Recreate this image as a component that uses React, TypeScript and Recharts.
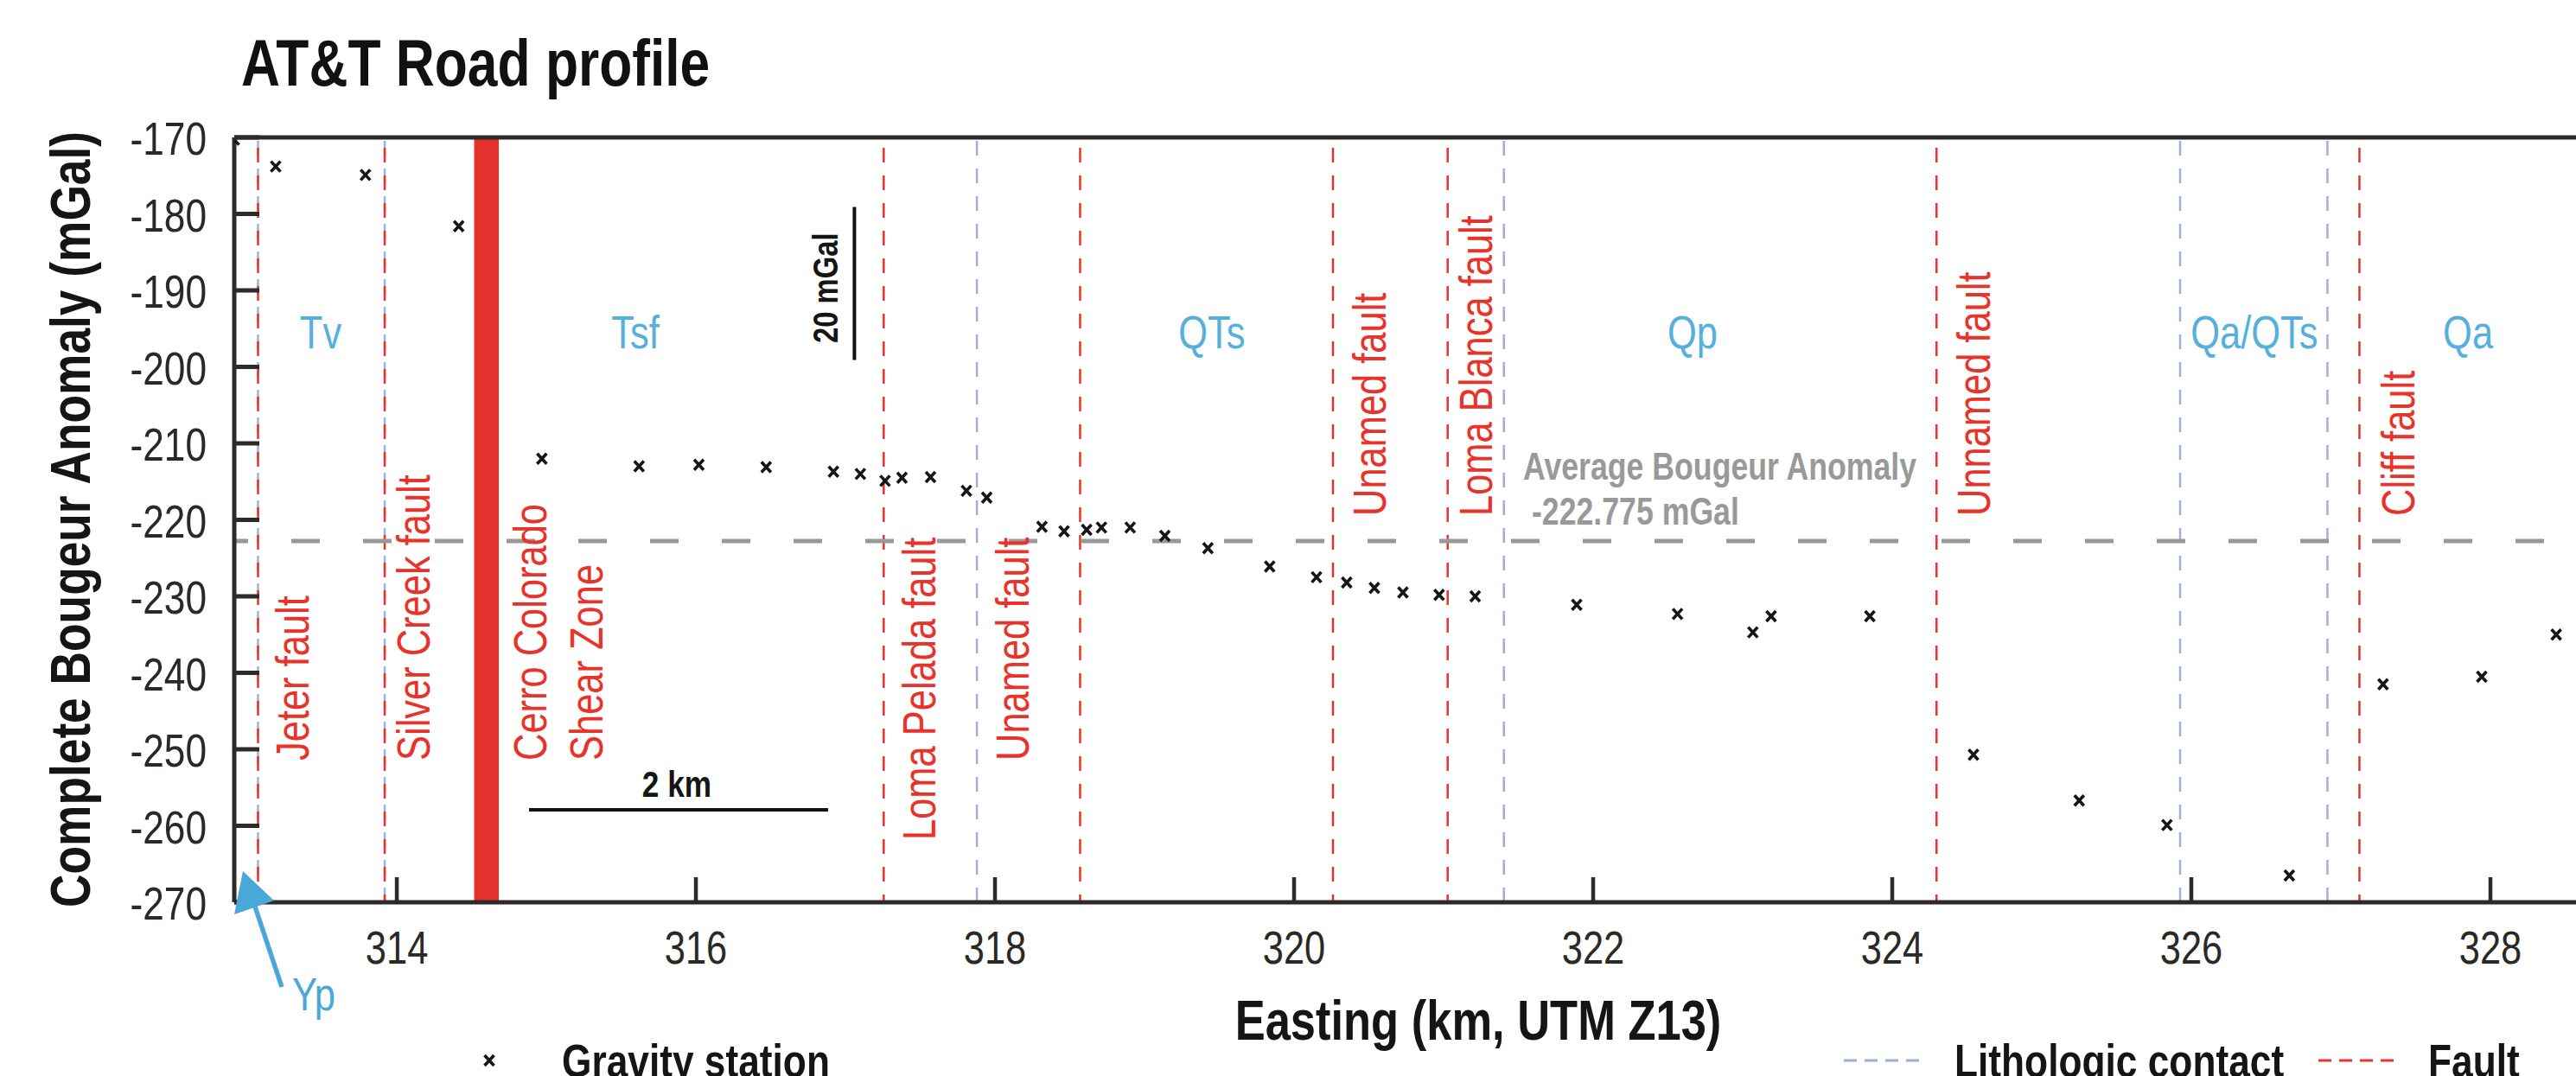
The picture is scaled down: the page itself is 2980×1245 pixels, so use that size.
import React from 'react';
import { ScatterChart, Scatter, XAxis, YAxis, ReferenceLine, ReferenceArea } from 'recharts';

// gravity stations along the AT&T Road profile
const stationEasting = [
  312.913, 313.19, 313.79, 314.414, 314.97, 315.62, 316.02, 316.47, 316.92, 317.1,
  317.265, 317.378, 317.569, 317.809, 317.945, 318.314, 318.462, 318.613, 318.712, 318.904,
  319.136, 319.424, 319.837, 320.15, 320.352, 320.537, 320.728, 320.97, 321.211, 321.89,
  322.564, 323.068, 323.19, 323.85, 324.543, 325.25, 325.837, 326.655, 327.282, 327.942, 328.44,
];
const stationAnomaly = [
  -170.3, -173.8, -174.9, -181.6, -212.0, -213.0, -212.8, -213.1, -213.7, -214.0,
  -214.9, -214.5, -214.4, -216.2, -217.1, -220.9, -221.5, -221.3, -221.0, -221.0,
  -222.1, -223.7, -226.1, -227.5, -228.2, -228.9, -229.5, -229.8, -230.0, -231.1,
  -232.3, -234.7, -232.6, -232.6, -250.7, -256.7, -259.9, -266.5, -241.5, -240.5, -235.0,
];

const faultEasting = [313.072, 313.919, 317.256, 318.569, 320.26, 321.027, 324.296, 327.124];
const faultNames = [
  'Jeter fault', 'Silver Creek fault', 'Loma Pelada fault', 'Unamed fault',
  'Unamed fault', 'Loma Blanca fault', 'Unnamed fault', 'Cliff fault',
];
const contactEasting = [313.072, 313.919, 317.879, 321.403, 325.925, 326.91];
const shearZone = [314.517, 314.682];
const shearZoneName = ['Cerro Colorado', 'Shear Zone'];

const formationNames = ['Tv', 'Tsf', 'QTs', 'Qp', 'Qa/QTs', 'Qa'];
const formationEasting = [313.491, 315.595, 319.45, 322.664, 326.421, 327.85];

const averageAnomaly = -222.775;
const xTicks = [314, 316, 318, 320, 322, 324, 326, 328];
const yTicks = [-270, -260, -250, -240, -230, -220, -210, -200, -190, -180, -170];

// layout
const X_DOMAIN = [312.913, 328.63];
const Y_DOMAIN = [-270, -170];
const PLOT_LEFT = 271;
const PLOT_W = 2719;

const FONT = "'Liberation Sans', Arial, sans-serif";
const SQUEEZE = 0.82; // no narrow face installed, so squeeze the regular one
const AXIS = '#2d2a27';
const RED = '#e8332a';
const CONTACT = '#9bb0de';
const UNIT = '#55b0dc';
const GREY = '#999999';
const INK = '#151515';

// rotated fault names: baseline shift from the line (px), start y (px)
const faultLabelLayout = [
  { dx: 58, y0: 880 },
  { dx: 52, y0: 880 },
  { dx: 60, y0: 972 },
  { dx: -59, y0: 880 },
  { dx: 61, y0: 597 },
  { dx: 51, y0: 597 },
  { dx: 62, y0: 597 },
  { dx: 64, y0: 597 },
];

const sx = (v: number) => PLOT_LEFT + ((v - X_DOMAIN[0]) / (X_DOMAIN[1] - X_DOMAIN[0])) * PLOT_W;

const stations = stationEasting.map((x, i) => ({ x, y: stationAnomaly[i] }));

// narrow text: regular face squeezed along the writing direction
function NText({ x, y, rot = 0, size, bold, fill = INK, anchor = 'start', children }: any) {
  return (
    <g transform={`translate(${x},${y}) rotate(${rot}) scale(${SQUEEZE},1)`}>
      <text
        x={0}
        y={0}
        textAnchor={anchor}
        fontSize={size}
        fontWeight={bold ? 'bold' : 'normal'}
        fontFamily={FONT}
        fill={fill}
      >
        {children}
      </text>
    </g>
  );
}

const Cross = ({ cx, cy }: any) => (
  <path
    d={`M${cx - 5.5},${cy - 6}L${cx + 5.5},${cy + 6}M${cx + 5.5},${cy - 6}L${cx - 5.5},${cy + 6}`}
    stroke={INK}
    strokeWidth={3.6}
    fill="none"
  />
);

const BottomTick = ({ x, y, payload }: any) => (
  <g>
    <line x1={x} x2={x} y1={y} y2={y - 29} stroke={AXIS} strokeWidth={4.5} />
    <NText x={x} y={y + 71} size={53} anchor="middle" fill="#2b2826">
      {payload.value}
    </NText>
  </g>
);

const TopTick = ({ x, y }: any) => (
  <line x1={x} x2={x} y1={y} y2={y + 29} stroke={AXIS} strokeWidth={4.5} />
);

const LeftTick = ({ x, y, payload }: any) => (
  <g>
    <line x1={x} x2={x + 29} y1={y} y2={y} stroke={AXIS} strokeWidth={5} />
    <NText x={x - 32} y={y + 20} size={54} anchor="end" fill="#2b2826">
      {payload.value}
    </NText>
  </g>
);

function Overlay() {
  return (
    <svg
      width={2980}
      height={1245}
      style={{ position: 'absolute', left: 0, top: 0, pointerEvents: 'none' }}
    >
      <NText x={279} y={99} size={76} bold fill="#111">
        AT&amp;T Road profile
      </NText>
      <NText x={104} y={601} rot={-90} size={65} bold anchor="middle">
        Complete Bougeur Anomaly (mGal)
      </NText>
      <NText x={1710} y={1203} size={64} bold anchor="middle">
        Easting (km, UTM Z13)
      </NText>

      {formationNames.map((n, i) => (
        <NText key={n} x={sx(formationEasting[i])} y={403} size={53} anchor="middle" fill={UNIT}>
          {n}
        </NText>
      ))}

      {faultNames.map((n, i) => (
        <NText
          key={i}
          x={sx(faultEasting[i]) + faultLabelLayout[i].dx}
          y={faultLabelLayout[i].y0}
          rot={-90}
          size={53}
          fill={RED}
        >
          {n}
        </NText>
      ))}
      {shearZoneName.map((n, i) => (
        <NText key={n} x={sx(shearZone[1]) + 55 + i * 65} y={880} rot={-90} size={53} fill={RED}>
          {n}
        </NText>
      ))}

      <NText x={1762} y={555} size={43.5} bold fill={GREY}>
        Average Bougeur Anomaly
      </NText>
      <NText x={1772} y={607} size={43.5} bold fill={GREY}>
        {`${averageAnomaly} mGal`}
      </NText>

      <NText x={969} y={397} rot={-90} size={40} bold>
        20 mGal
      </NText>
      <NText x={783} y={922} size={43} bold anchor="middle">
        2 km
      </NText>

      {/* Yp arrow */}
      <line x1={326} y1={1142} x2={294} y2={1046} stroke="#4aa8d8" strokeWidth={5.5} />
      <polygon points="281,1008 317,1042 271,1058" fill="#4aa8d8" />
      <NText x={338} y={1169} size={53} fill="#4aa8d8">
        Yp
      </NText>

      {/* legend */}
      <Cross cx={566} cy={1227} />
      <NText x={650} y={1246} size={54} bold>
        Gravity station
      </NText>
      <line x1={2133} x2={2222} y1={1227} y2={1227} stroke={CONTACT} strokeWidth={3} strokeDasharray="15 9" />
      <NText x={2261} y={1246} size={54} bold>
        Lithologic contact
      </NText>
      <line x1={2682} x2={2771} y1={1227} y2={1227} stroke={RED} strokeWidth={3} strokeDasharray="15 9" />
      <NText x={2809} y={1246} size={54} bold>
        Fault
      </NText>
    </svg>
  );
}

export default function App() {
  return (
    <div
      style={{
        position: 'absolute',
        left: 0,
        top: 0,
        width: 2980,
        height: 1245,
        overflow: 'hidden',
        background: '#fff',
      }}
    >
      <ScatterChart width={3000} height={1245} margin={{ top: 149, right: 10, bottom: 101, left: 121 }}>
        <XAxis
          type="number"
          dataKey="x"
          domain={X_DOMAIN}
          ticks={xTicks}
          allowDataOverflow
          height={100}
          tickSize={0}
          tickMargin={0}
          tickLine={false}
          axisLine={{ stroke: AXIS, strokeWidth: 5 }}
          tick={BottomTick}
          interval={0}
        />
        <XAxis
          xAxisId="top"
          orientation="top"
          type="number"
          domain={X_DOMAIN}
          ticks={xTicks}
          allowDataOverflow
          height={10}
          tickSize={0}
          tickMargin={0}
          tickLine={false}
          axisLine={{ stroke: AXIS, strokeWidth: 5 }}
          tick={TopTick}
          interval={0}
        />
        <YAxis
          type="number"
          dataKey="y"
          domain={Y_DOMAIN}
          ticks={yTicks}
          allowDataOverflow
          width={150}
          tickSize={0}
          tickMargin={0}
          tickLine={false}
          axisLine={{ stroke: AXIS, strokeWidth: 5 }}
          tick={LeftTick}
          interval={0}
        />

        {contactEasting.map((x, i) => (
          <ReferenceLine key={`c${i}`} x={x} stroke={CONTACT} strokeWidth={2.5} strokeDasharray="17 15" />
        ))}
        {faultEasting.map((x, i) => (
          <ReferenceLine key={`f${i}`} x={x} stroke={RED} strokeWidth={2.5} strokeDasharray="17 15" strokeDashoffset={8} />
        ))}
        <ReferenceArea x1={shearZone[0]} x2={shearZone[1]} fill="#e3322b" fillOpacity={1} stroke="none" />
        <ReferenceLine y={averageAnomaly} stroke={GREY} strokeWidth={5} strokeDasharray="33 50" strokeDashoffset={17} />

        {/* scale bars */}
        <ReferenceLine
          segment={[{ x: 317.06, y: -179.1 }, { x: 317.06, y: -199.1 }]}
          stroke="#111"
          strokeWidth={4}
        />
        <ReferenceLine
          segment={[{ x: 314.884, y: -257.9 }, { x: 316.884, y: -257.9 }]}
          stroke="#111"
          strokeWidth={4}
        />

        <Scatter data={stations} shape={<Cross />} isAnimationActive={false} />
      </ScatterChart>
      <Overlay />
    </div>
  );
}
